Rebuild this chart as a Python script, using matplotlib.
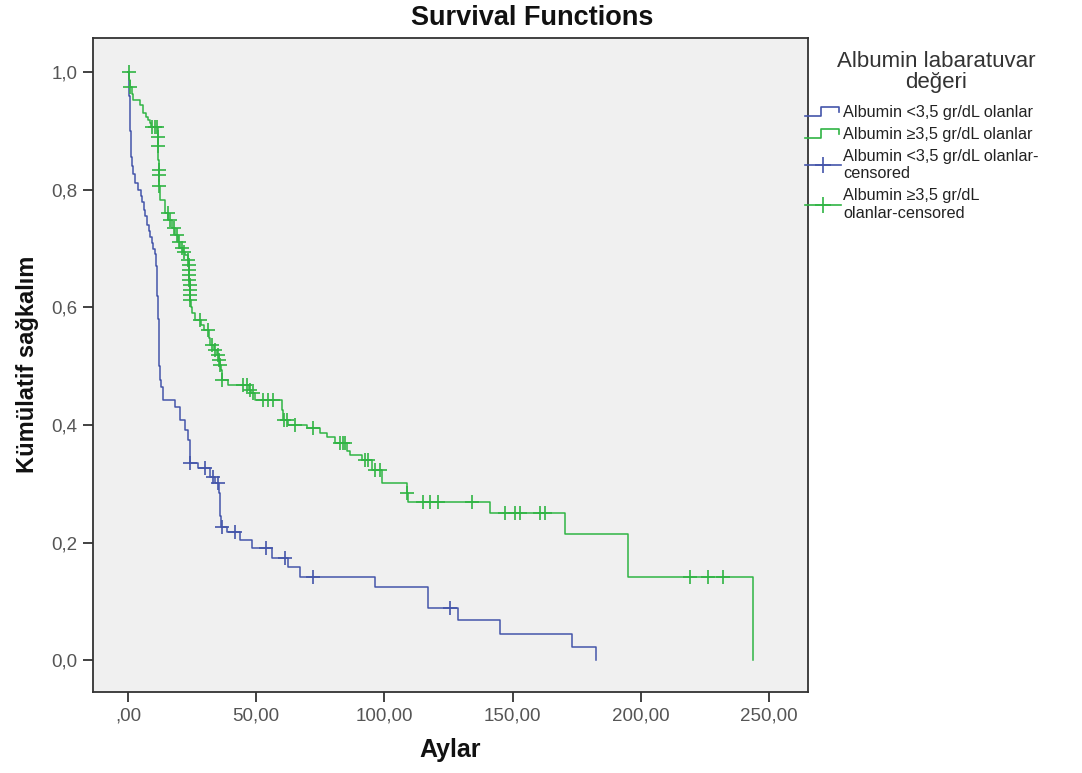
import numpy as np
import matplotlib
matplotlib.use("Agg")
import matplotlib.pyplot as plt
from matplotlib.lines import Line2D
from matplotlib.legend_handler import HandlerBase

plt.rcParams['font.family'] = ['Liberation Sans', 'DejaVu Sans']

# ---------------- data ----------------
# Albumin < 3,5 gr/dL : event times (months) and survival after each event
low_times = [0, 0.2, 0.4, 0.6, 0.8, 1.0, 1.3, 1.6, 2.0, 2.7, 3.9, 5.0, 5.5, 6.2, 6.6,
             7.4, 8.0, 8.6, 9.2, 9.8, 10.5, 11.0, 11.3, 11.5, 11.7, 11.9, 12.1, 12.3,
             13.0, 13.7, 18.3, 20.3, 22.2, 23.4, 24.2, 27.3, 32.0, 33.9, 35.6, 35.8,
             36.0, 36.2, 38.6, 43.7, 48.4, 56.2, 62.4, 67.1, 96.3, 117.0, 128.7,
             145.0, 173.0, 182.5]
low_surv = [1.0, 0.98, 0.96, 0.93, 0.90, 0.87, 0.855, 0.84, 0.826, 0.812, 0.80, 0.79,
            0.78, 0.765, 0.755, 0.74, 0.73, 0.72, 0.71, 0.70, 0.69, 0.67, 0.655, 0.62,
            0.58, 0.54, 0.50, 0.476, 0.465, 0.442, 0.430, 0.408, 0.391, 0.374, 0.335,
            0.327, 0.311, 0.301, 0.285, 0.265, 0.245, 0.226, 0.218, 0.204, 0.19, 0.173,
            0.158, 0.141, 0.124, 0.088, 0.068, 0.044, 0.022, 0.0]
low_censored = [24.3, 30.0, 33.2, 35.1, 36.8, 41.7, 53.8, 61.2, 72.2, 125.6]

# Albumin >= 3,5 gr/dL
high_times = [0, 0.4, 0.6, 1.5, 2.0, 4.7, 5.9, 7.0, 7.8, 8.6, 9.0, 11.6, 11.75, 11.85,
              11.9, 12.0, 12.1, 12.3, 12.5, 14.4, 15.7, 17.2, 18.3, 19.5, 20.3, 21.5,
              22.2, 23.5, 23.6, 23.7, 23.8, 23.9, 24.0, 24.1, 24.2, 24.3, 24.5, 25.0,
              26.1, 28.5, 29.6, 31.5, 32.0, 33.5, 34.7, 35.5, 35.9, 36.2, 36.7, 39.0,
              47.0, 48.0, 49.5, 60.0, 60.5, 62.5, 69.8, 74.9, 77.6, 80.7, 85.4, 86.5,
              91.3, 95.2, 99.1, 108.9, 109.2, 141.2, 170.4, 195.0, 243.8]
high_surv = [1.0, 0.987, 0.974, 0.962, 0.952, 0.944, 0.93, 0.924, 0.918, 0.913, 0.906,
             0.89, 0.874, 0.85, 0.833, 0.825, 0.806, 0.799, 0.782, 0.76, 0.748, 0.735,
             0.723, 0.711, 0.701, 0.694, 0.689, 0.68, 0.672, 0.663, 0.655, 0.646, 0.638,
             0.629, 0.621, 0.612, 0.60, 0.59, 0.578, 0.57, 0.561, 0.548, 0.536, 0.527,
             0.519, 0.51, 0.502, 0.493, 0.476, 0.468, 0.46, 0.454, 0.442, 0.425, 0.408,
             0.40, 0.395, 0.386, 0.379, 0.369, 0.355, 0.349, 0.340, 0.323, 0.301, 0.285,
             0.269, 0.25, 0.214, 0.141, 0.0]
high_censored = [0.2, 0.8, 9.5, 10.5, 11.2, 11.7, 11.8, 11.95, 12.05, 12.15, 15.6, 16.4,
                 17.8, 19.0, 20.0, 21.0, 21.8, 23.55, 23.65, 23.75, 23.85, 23.95, 24.05,
                 24.15, 24.25, 24.35, 28.1, 31.2, 32.8, 33.9, 35.0, 35.6, 36.0, 36.8,
                 44.9, 46.4, 47.6, 48.8, 52.7, 54.6, 56.6, 60.8, 62.0, 65.1, 72.2, 82.7,
                 83.8, 84.6, 92.4, 93.6, 96.3, 98.3, 109.0, 115.0, 117.8, 120.9, 134.2,
                 147.0, 151.0, 152.9, 160.7, 162.6, 219.2, 226.2, 232.0]

x_ticks = [0, 50, 100, 150, 200, 250]
x_ticklabels = [",00", "50,00", "100,00", "150,00", "200,00", "250,00"]
y_ticks = [0.0, 0.2, 0.4, 0.6, 0.8, 1.0]
y_ticklabels = ["0,0", "0,2", "0,4", "0,6", "0,8", "1,0"]

series_labels = ["Albumin <3,5 gr/dL olanlar", "Albumin \u22653,5 gr/dL olanlar",
                 "Albumin <3,5 gr/dL olanlar-\ncensored", "Albumin \u22653,5 gr/dL\nolanlar-censored"]
legend_title = "Albumin labaratuvar\nde\u011feri"

BLUE = "#4455aa"
GREEN = "#30b444"


def surv_at(times, surv, t):
    idx = np.searchsorted(np.asarray(times), np.asarray(t), side="right") - 1
    return np.asarray(surv)[idx]


class HandlerStep(HandlerBase):
    def create_artists(self, legend, orig_handle, xdescent, ydescent, width, height,
                       fontsize, trans):
        x0 = -xdescent
        y0 = -ydescent
        xs = [x0, x0 + width * 0.45, x0 + width * 0.45, x0 + width * 0.95, x0 + width * 0.95]
        ys = [y0 + height * 0.05, y0 + height * 0.05, y0 + height * 0.85, y0 + height * 0.85,
              y0 + height * 0.45]
        ln = Line2D(xs, ys, color=orig_handle.get_color(), lw=orig_handle.get_linewidth(),
                    transform=trans)
        return [ln]


fig = plt.figure(figsize=(10.82, 7.73), dpi=100)
ax = fig.add_axes([93 / 1082, 1 - 692 / 773, (808 - 93) / 1082, (692 - 38) / 773])
ax.set_facecolor("#f0f0f0")

# survival curves
lb, = ax.step(low_times, low_surv, where="post", color=BLUE, lw=1.1)
hg, = ax.step(high_times, high_surv, where="post", color=GREEN, lw=1.1)

# censored marks
lc, = ax.plot(low_censored, surv_at(low_times, low_surv, low_censored), ls="none",
              marker="+", ms=10, mew=1.2, color=BLUE)
hc, = ax.plot(high_censored, surv_at(high_times, high_surv, high_censored), ls="none",
              marker="+", ms=10, mew=1.2, color=GREEN)

ax.set_xlim(-13.65, 265.2)
ax.set_ylim(-0.054, 1.058)
ax.set_xticks(x_ticks)
ax.set_xticklabels(x_ticklabels)
ax.set_yticks(y_ticks)
ax.set_yticklabels(y_ticklabels)
ax.tick_params(direction="out", length=7, width=1.3, labelsize=13.5, colors="#333333",
               labelcolor="#555555", pad=4)
for s in ax.spines.values():
    s.set_color("#333333")
    s.set_linewidth(1.3)

fig.text(450 / 1082, 1 - 750 / 773, "Aylar", fontsize=18, fontweight="bold",
         ha="center", va="center", color="#111111")
fig.text(28 / 1082, 1 - 364 / 773, "K\u00fcm\u00fclatif sa\u011fkal\u0131m", fontsize=17,
         fontweight="bold", ha="center", va="center", rotation=90, color="#111111")
fig.text(532 / 1082, 1 - 18 / 773, "Survival Functions", fontsize=19.5, fontweight="bold",
         ha="center", va="center", color="#111111")

# legend title
fig.text(936 / 1082, 1 - 72 / 773, legend_title, fontsize=16, ha="center", va="center",
         multialignment="center", linespacing=0.95, color="#333333")

leg_lb = Line2D([], [], color=BLUE, lw=1.2)
leg_hg = Line2D([], [], color=GREEN, lw=1.2)
leg_lc = Line2D([], [], color=BLUE, lw=1.2, marker="+", ms=12, mew=1.2)
leg_hc = Line2D([], [], color=GREEN, lw=1.2, marker="+", ms=12, mew=1.2)
leg = fig.legend([leg_lb, leg_hg, leg_lc, leg_hc], series_labels,
                 handler_map={leg_lb: HandlerStep(), leg_hg: HandlerStep()},
                 loc="upper left", bbox_to_anchor=(805 / 1082, 1 - 105 / 773),
                 frameon=False, fontsize=11.7, numpoints=1,
                 handlelength=2.2, handletextpad=0.15, labelspacing=0.42,
                 borderaxespad=0, borderpad=0.0)
for t in leg.get_texts():
    t.set_color("#222222")
    t.set_linespacing(1.22)

fig.savefig("out.png", dpi=100)
